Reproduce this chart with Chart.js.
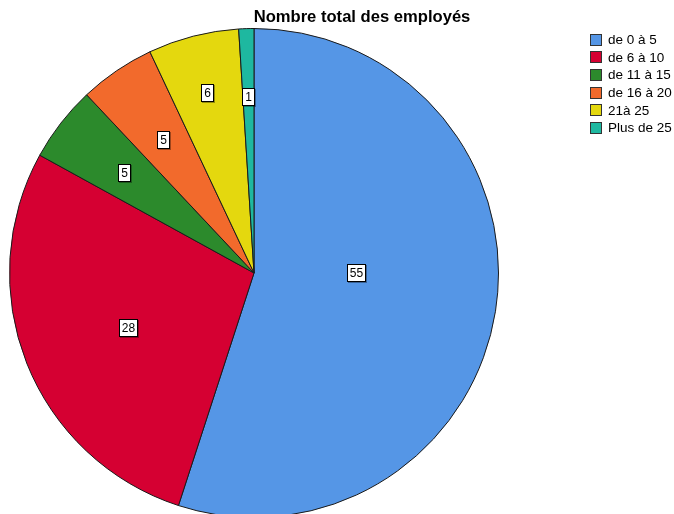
<!DOCTYPE html>
<html>
<head>
<meta charset="utf-8">
<script src="https://cdn.jsdelivr.net/npm/chart.js@4"></script>
<style>
    body { margin: 0; background: #fff; overflow: hidden; font-family: Arial, "Liberation Sans", sans-serif; }
    #wrap { position: relative; width: 674px; height: 514px; overflow: hidden; }
    #chart { position: absolute; left: 0; top: 0; }
    #title { position: absolute; left: 362px; top: 7px; transform: translateX(-50%); font-weight: bold; font-size: 16.6px; color: #000; white-space: nowrap; }
    #legend { position: absolute; left: 590px; top: 31px; font-size: 13.5px; color: #000; }
    #legend div { height: 17.6px; display: flex; align-items: center; white-space: nowrap; }
    #legend span.box { display: inline-block; width: 10px; height: 10px; border: 1px solid #333; margin-right: 6px; }
</style>
</head>
<body>
<div id="wrap">
    <canvas id="chart" width="674" height="520"></canvas>
    <div id="title">Nombre total des employés</div>
    <div id="legend"></div>
</div>
<script>
// Data
const categories = ['de 0 à 5', 'de 6 à 10', 'de 11 à 15', 'de 16 à 20', '21à 25', 'Plus de 25'];
const counts = [55, 28, 5, 5, 6, 1];
const colors = ['#5596E6', '#D50032', '#2C8A2C', '#F26A2C', '#E4D80E', '#1EB8A0'];
// where each value label sits: fraction of the radius, and fraction along the slice
const labelRadius = [0.42, 0.56, 0.67, 0.66, 0.76, 0.72];
const labelAlong = [0.455, 0.48, 0.5, 0.5, 0.5, 0.5];

// Build legend
const legend = document.getElementById('legend');
categories.forEach((c, i) => {
    const row = document.createElement('div');
    const box = document.createElement('span');
    box.className = 'box';
    box.style.background = colors[i];
    row.appendChild(box);
    row.appendChild(document.createTextNode(c));
    legend.appendChild(row);
});

// Draw boxed value labels on the slices
const valueLabels = {
    id: 'valueLabels',
    afterDatasetsDraw(chart) {
        const ctx = chart.ctx;
        const meta = chart.getDatasetMeta(0);
        ctx.save();
        ctx.font = '12px Arial, "Liberation Sans", sans-serif';
        ctx.textAlign = 'center';
        ctx.textBaseline = 'middle';
        meta.data.forEach((arc, i) => {
            const mid = arc.startAngle + (arc.endAngle - arc.startAngle) * labelAlong[i];
            const r = arc.outerRadius * labelRadius[i];
            const x = arc.x + Math.cos(mid) * r;
            const y = arc.y + Math.sin(mid) * r;
            const text = String(counts[i]);
            const w = Math.round(ctx.measureText(text).width) + 6;
            const h = 18;
            const bx = Math.round(x - w / 2), by = Math.round(y - h / 2);
            ctx.fillStyle = 'rgba(0,0,0,0.35)';
            ctx.fillRect(bx + 1, by + 1, w, h);
            ctx.fillStyle = '#fff';
            ctx.fillRect(bx, by, w, h);
            ctx.strokeStyle = '#000';
            ctx.lineWidth = 1;
            ctx.strokeRect(bx + 0.5, by + 0.5, w - 1, h - 1);
            ctx.fillStyle = '#000';
            ctx.fillText(text, bx + w / 2, by + h / 2 + 0.5);
        });
        ctx.restore();
    }
};

new Chart(document.getElementById('chart').getContext('2d'), {
    type: 'pie',
    data: {
        labels: categories,
        datasets: [{
            data: counts,
            backgroundColor: colors,
            borderColor: '#1a1a1a',
            borderWidth: 1
        }]
    },
    options: {
        responsive: false,
        animation: false,
        layout: { padding: { left: 9, right: 175, top: 28, bottom: 2 } },
        plugins: {
            legend: { display: false },
            tooltip: { enabled: false }
        }
    },
    plugins: [valueLabels]
});
</script>
</body>
</html>
